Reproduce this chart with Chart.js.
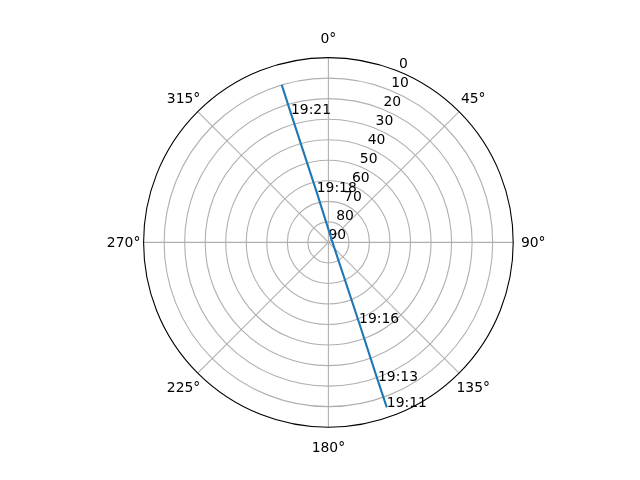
<!DOCTYPE html>
<html>
<head>
<meta charset="utf-8">
<script src="https://cdn.jsdelivr.net/npm/chart.js@4"></script>
<style>
  body { margin: 0; background: #fff; }
  #wrap { width: 640px; height: 480px; }
</style>
</head>
<body>
<div id="wrap"><canvas id="grafico" width="640" height="480"></canvas></div>
<script>
// pass of the satellite: azimuth (deg, clockwise from north) and elevation (deg)
const tempos = ['19:11', '19:13', '19:16', '', '19:18', '19:21', ''];
const azimutes = [160.5, 160.3, 159.1, 72, 346.9, 343.8, 343.5];
const elevacoes = [4.8, 18.4, 48.1, 88.1, 65.0, 24.7, 10.0];

const ticksElevacao = [0, 10, 20, 30, 40, 50, 60, 70, 80, 90];
const ticksAzimute = [0, 45, 90, 135, 180, 225, 270, 315];

const fonte = '13.9px "DejaVu Sans"';
const rad = g => g * Math.PI / 180;

// elevation 90 sits at the centre, 0 at the rim
const pontos = azimutes.map((az, i) => {
    const r = 90 - elevacoes[i];
    return { x: r * Math.sin(rad(az)), y: r * Math.cos(rad(az)) };
});

const gradePolar = {
    id: 'gradePolar',
    beforeDatasetsDraw(chart) {
        const { ctx, scales: { x, y } } = chart;
        const cx = x.getPixelForValue(0), cy = y.getPixelForValue(0);
        const raio = v => x.getPixelForValue(v) - cx;
        const R = raio(90);
        ctx.save();
        ctx.strokeStyle = '#b0b0b0';
        ctx.lineWidth = 1.1;
        ticksElevacao.forEach(el => {
            const r = raio(90 - el);
            if (r <= 0 || el === 0) return;
            ctx.beginPath();
            ctx.arc(cx, cy, r, 0, Math.PI * 2);
            ctx.stroke();
        });
        ticksAzimute.forEach(az => {
            ctx.beginPath();
            ctx.moveTo(cx, cy);
            ctx.lineTo(cx + R * Math.sin(rad(az)), cy - R * Math.cos(rad(az)));
            ctx.stroke();
        });
        // radial labels along 22.5 deg
        ctx.fillStyle = '#000';
        ctx.font = fonte;
        ctx.textAlign = 'left';
        ctx.textBaseline = 'alphabetic';
        ticksElevacao.forEach(el => {
            const r = raio(90 - el);
            ctx.fillText(String(el), cx + r * Math.sin(rad(22.5)), cy - r * Math.cos(rad(22.5)) - 3.3);
        });
        // angle labels
        ctx.textAlign = 'center';
        ticksAzimute.forEach(az => {
            const r = R + 20;
            ctx.fillText(az + '°', cx + r * Math.sin(rad(az)), cy - r * Math.cos(rad(az)) + 5);
        });
        ctx.restore();
    },
    afterDatasetsDraw(chart) {
        const { ctx, scales: { x, y } } = chart;
        const cx = x.getPixelForValue(0), cy = y.getPixelForValue(0);
        const R = x.getPixelForValue(90) - cx;
        ctx.save();
        ctx.strokeStyle = '#000';
        ctx.lineWidth = 1.1;
        ctx.beginPath();
        ctx.arc(cx, cy, R, 0, Math.PI * 2);
        ctx.stroke();
        // time annotations at the points
        ctx.fillStyle = '#000';
        ctx.font = fonte;
        ctx.textAlign = 'left';
        ctx.textBaseline = 'alphabetic';
        pontos.forEach((p, i) => {
            if (!tempos[i]) return;
            ctx.fillText(tempos[i], x.getPixelForValue(p.x), y.getPixelForValue(p.y));
        });
        ctx.restore();
    }
};

new Chart(document.getElementById('grafico'), {
    type: 'scatter',
    data: {
        datasets: [{
            data: pontos,
            showLine: true,
            borderColor: '#1f77b4',
            borderWidth: 2.1,
            pointRadius: 0,
            tension: 0
        }]
    },
    options: {
        responsive: false,
        animation: false,
        devicePixelRatio: 1,
        layout: { padding: { left: 143.6, right: 126.8, top: 57.6, bottom: 52.8 } },
        scales: {
            x: { min: -90, max: 90, display: false },
            y: { min: -90, max: 90, display: false }
        },
        plugins: {
            legend: { display: false },
            tooltip: { enabled: false }
        }
    },
    plugins: [gradePolar]
});
</script>
</body>
</html>
